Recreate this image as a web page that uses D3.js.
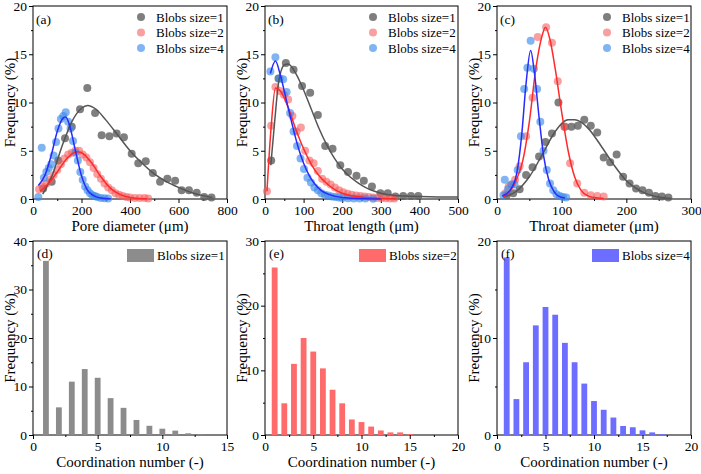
<!DOCTYPE html>
<html>
<head>
<meta charset="utf-8">
<script src="https://cdn.jsdelivr.net/npm/d3@7"></script>
<style>
  body { margin: 0; background: #fff; }
  svg text { font-family: "Liberation Serif", "Times New Roman", serif; fill: #000; }
</style>
</head>
<body>
<svg id="chart"></svg>
<script>
// ---- data: [x, y] pairs ----
// (a) pore diameter
const poreDots1 = [[42,1.1],[77,1.8],[104,4.0],[132,6.3],[160,7.5],[194,9.3],[224,11.5],[256,8.9],[283,6.6],[315,6.5],[345,6.8],[375,6.4],[407,4.7],[434,3.7],[465,3.9],[494,2.7],[524,1.8],[554,2.1],[586,1.9],[613,0.9],[643,0.9],[675,0.65],[706,0.2],[736,0.15]];
const poreDots2 = [[25,1.0],[40,1.3],[55,1.6],[70,2.0],[85,2.5],[100,3.0],[115,3.6],[130,4.2],[145,4.6],[160,4.8],[175,5.0],[190,5.0],[205,4.6],[220,4.3],[235,3.8],[250,3.2],[265,2.6],[280,2.1],[295,1.6],[310,1.2],[325,0.9],[340,0.6],[355,0.45],[370,0.3],[385,0.2],[400,0.15],[420,0.1],[440,0.1],[460,0.1],[475,0.05]];
const poreDots4 = [[22,0.2],[36,5.3],[45,2.2],[55,2.8],[65,3.2],[75,3.6],[85,4.5],[95,5.9],[105,7.3],[115,8.3],[125,8.6],[135,9.0],[145,8.0],[155,7.3],[165,6.0],[175,4.8],[185,4.0],[195,2.8],[205,2.0],[215,1.3],[225,0.9],[235,0.6],[245,0.4],[255,0.3],[265,0.2],[280,0.1],[295,0.08],[310,0.05]];
const poreFit1 = [[40,0.5],[80,2.5],[120,5.5],[160,8.0],[200,9.4],[225,9.7],[260,9.3],[300,8.2],[350,6.6],[400,5.0],[450,3.7],[500,2.6],[550,1.8],[600,1.2],[650,0.7],[700,0.35],[740,0.15]];
const poreFit2 = [[30,0.8],[60,1.5],[100,2.8],[140,4.2],[180,4.9],[200,4.8],[240,3.8],[280,2.3],[320,1.1],[360,0.45],[400,0.15],[440,0.05],[470,0.02]];
const poreFit4 = [[22,1.4],[50,2.5],[75,4.5],[100,7.0],[125,8.4],[135,8.5],[150,7.7],[175,5.0],[200,2.4],[225,0.9],[250,0.35],[280,0.1],[320,0.02]];

// (b) throat length
const lengthDots1 = [[16,4.0],[35,12.5],[54,14.1],[74,13.4],[96,11.7],[117,11.0],[137,8.7],[156,5.5],[175,5.2],[195,3.5],[215,2.8],[237,2.4],[256,1.9],[277,1.3],[299,0.6],[318,0.6],[338,0.25],[358,0.3],[378,0.3],[397,0.3]];
const lengthDots2 = [[5,0.8],[16,7.6],[27,11.6],[38,11.2],[49,10.8],[60,10.3],[71,8.6],[82,7.0],[93,7.4],[104,5.0],[115,4.0],[126,3.7],[137,2.9],[148,2.1],[159,1.8],[170,1.5],[181,1.2],[192,0.9],[203,0.7],[214,0.55],[225,0.45],[236,0.35],[247,0.3],[258,0.25],[269,0.2],[280,0.15],[291,0.1],[302,0.1],[313,0.08],[324,0.05],[335,0.05]];
const lengthDots4 = [[14,13.2],[27,14.7],[38,12.5],[47,12.4],[56,11.1],[65,8.9],[74,7.0],[83,5.5],[92,4.2],[101,3.1],[110,2.2],[119,1.7],[128,1.2],[137,0.9],[146,0.6],[155,0.45],[164,0.35],[173,0.25],[182,0.2],[191,0.15],[200,0.1],[215,0.08],[230,0.06],[245,0.05],[260,0.04],[280,0.03]];
const lengthFit1 = [[15,3.5],[25,8],[35,12],[50,13.9],[60,14.0],[80,13.0],[100,11.3],[120,9.3],[140,7.3],[160,5.6],[180,4.2],[200,3.1],[220,2.3],[240,1.7],[260,1.2],[280,0.85],[300,0.6],[330,0.4],[360,0.3],[400,0.25],[450,0.22],[500,0.2]];
const lengthFit2 = [[5,0.8],[16,7.5],[27,11.5],[40,11.2],[60,9.5],[80,7.2],[100,5.2],[120,3.6],[140,2.4],[160,1.6],[180,1.0],[200,0.6],[230,0.3],[260,0.15],[300,0.07],[340,0.03]];
const lengthFit4 = [[14,13.0],[27,14.3],[40,12.8],[55,10.3],[70,7.8],[85,5.5],[100,3.7],[115,2.4],[130,1.5],[145,0.9],[160,0.55],[180,0.3],[200,0.15],[230,0.07],[260,0.03],[300,0.01]];

// (c) throat diameter
const diamDots1 = [[15,0.4],[25,0.6],[35,1.0],[45,2.5],[55,3.3],[65,4.4],[75,5.9],[85,6.8],[95,10.0],[105,7.5],[115,7.5],[125,7.6],[135,8.2],[145,7.6],[155,6.9],[165,4.3],[175,3.8],[185,4.6],[195,2.3],[205,1.6],[215,1.1],[225,0.9],[235,0.65],[245,0.3],[255,0.25],[265,0.15]];
const diamDots2 = [[13,0.6],[18,1.3],[23,1.5],[28,2.0],[35,3.4],[45,6.5],[55,10.5],[63,16.8],[76,17.8],[85,16.2],[94,12.2],[104,7.5],[113,3.7],[124,1.6],[135,0.65],[145,0.4],[155,0.3],[165,0.25]];
const diamDots4 = [[10,0.4],[12,2.0],[17,1.0],[22,1.5],[27,1.5],[32,3.0],[37,6.5],[42,11.4],[47,13.6],[52,16.4],[57,13.5],[62,11.4],[67,8.0],[72,5.0],[77,3.0],[82,1.6],[87,0.9],[92,0.5],[97,0.3],[102,0.2],[107,0.15]];
const diamFit1 = [[10,0.2],[30,0.8],[50,2.3],[70,4.6],[90,7.0],[110,8.2],[120,8.2],[140,7.4],[160,5.6],[180,3.6],[200,1.9],[220,0.9],[240,0.35],[260,0.1],[270,0.05]];
const diamFit2 = [[10,0.2],[20,0.8],[30,2.0],[40,4.0],[50,8.0],[60,13.5],[70,17.0],[75,17.8],[82,16.5],[90,13.5],[100,9.0],[110,5.0],[120,2.3],[130,0.9],[140,0.35],[150,0.15],[165,0.05]];
const diamFit4 = [[8,0.3],[20,0.9],[30,2.5],[38,6.5],[45,12.0],[52,15.4],[58,13.0],[65,8.5],[72,4.5],[80,2.0],[88,0.8],[95,0.3],[105,0.1]];

// (d)-(f) coordination number
const coordNum1 = [1,2,3,4,5,6,7,8,9,10,11,12,13];
const coordFreq1 = [35.9,5.7,11.0,13.6,11.8,7.6,5.6,3.1,1.9,1.3,0.9,0.35,0.15];
const coordNum2 = [1,2,3,4,5,6,7,8,9,10,11,12,13,14,15];
const coordFreq2 = [25.9,4.9,11.0,15.0,12.9,10.3,7.0,4.9,2.4,2.0,1.3,0.7,0.4,0.4,0.15];
const coordNum4 = [1,2,3,4,5,6,7,8,9,10,11,12,13,14,15,16,17];
const coordFreq4 = [18.3,3.7,7.5,11.3,13.2,12.4,9.5,7.5,5.3,3.5,2.6,1.8,0.93,0.8,0.48,0.27,0.1];

const legendNames = ["Blobs size=1", "Blobs size=2", "Blobs size=4"];

// ---- styles ----
const dotColors = ["rgba(95,95,95,0.8)", "rgba(245,95,95,0.6)", "rgba(60,140,235,0.65)"];
const lineColors = ["#555555", "#ff2a2a", "#2a2aff"];
const barColors = ["#8c8c8c", "#ff6a6a", "#6d6dff"];

const W = 701, H = 474;
const svg = d3.select("#chart").attr("width", W).attr("height", H);
svg.append("rect").attr("width", W).attr("height", H).attr("fill", "#fff");

function frame(g, x, y, xTicks, xMinor, yTicks, yMinor, xTitle) {
    const [x0, x1] = x.range();
    const [y0, y1] = y.range();
    // minor ticks
    g.append("g").attr("transform", `translate(0,${y0})`)
        .call(d3.axisBottom(x).tickValues(xMinor).tickSize(2).tickFormat(""))
        .call(a => a.select(".domain").remove());
    g.append("g").attr("transform", `translate(${x0},0)`)
        .call(d3.axisLeft(y).tickValues(yMinor).tickSize(2).tickFormat(""))
        .call(a => a.select(".domain").remove());
    // major ticks
    const xa = g.append("g").attr("transform", `translate(0,${y0})`)
        .call(d3.axisBottom(x).tickValues(xTicks).tickSize(4).tickPadding(2).tickFormat(d3.format("d")));
    const ya = g.append("g").attr("transform", `translate(${x0},0)`)
        .call(d3.axisLeft(y).tickValues(yTicks).tickSize(4).tickPadding(2).tickFormat(d3.format("d")));
    [xa, ya].forEach(a => {
        a.selectAll("text").attr("font-size", 13.5).attr("font-family", "Liberation Serif");
        a.select(".domain").remove();
    });
    g.append("rect").attr("x", x0).attr("y", y1).attr("width", x1 - x0).attr("height", y0 - y1)
        .attr("fill", "none").attr("stroke", "#000").attr("stroke-width", 1);
    g.append("text").attr("x", (x0 + x1) / 2).attr("y", y0 + 32)
        .attr("text-anchor", "middle").attr("font-size", 15).text(xTitle);
    g.append("text").attr("transform", `translate(${x0 - 18},${(y0 + y1) / 2}) rotate(-90)`)
        .attr("text-anchor", "middle").attr("font-size", 15).text("Frequency (%)");
}

function scatterPanel(opt) {
    const g = svg.append("g");
    const x = d3.scaleLinear().domain([0, opt.xMax]).range([opt.left, opt.right]);
    const y = d3.scaleLinear().domain([0, 20]).range([199, 6]);
    frame(g, x, y, opt.xTicks, opt.xMinor, [0, 5, 10, 15, 20], [2.5, 7.5, 12.5, 17.5], opt.xTitle);

    const line = d3.line().x(d => x(d[0])).y(d => y(d[1])).curve(d3.curveMonotoneX);
    opt.dots.forEach((ser, i) => {
        g.append("g").selectAll("circle").data(ser).join("circle")
            .attr("cx", d => x(d[0])).attr("cy", d => y(d[1])).attr("r", 4)
            .attr("fill", dotColors[i]);
    });
    opt.fits.forEach((ser, i) => {
        g.append("path").datum(ser).attr("d", line)
            .attr("fill", "none").attr("stroke", lineColors[i]).attr("stroke-width", 1.5);
    });

    g.append("text").attr("x", opt.left + 3).attr("y", 24).attr("font-size", 13.5).text(opt.tag);
    legendNames.forEach((n, i) => {
        const ly = 17 + i * 15.5;
        g.append("circle").attr("cx", opt.legendX).attr("cy", ly).attr("r", 4).attr("fill", dotColors[i]);
        g.append("text").attr("x", opt.legendX + 15).attr("y", ly + 4.5).attr("font-size", 13).text(n);
    });
}

function barPanel(opt) {
    const g = svg.append("g");
    const x = d3.scaleLinear().domain([0, opt.xMax]).range([opt.left, opt.right]);
    const y = d3.scaleLinear().domain([0, opt.yMax]).range([435, 241]);
    frame(g, x, y, opt.xTicks, opt.xMinor, d3.range(0, opt.yMax + 1, 10), d3.range(5, opt.yMax, 10), "Coordination number (-)");

    const bw = 5.8; // bars keep the same pixel width in every panel
    g.append("g").selectAll("rect").data(opt.nums).join("rect")
        .attr("x", d => x(d) - bw / 2).attr("width", bw)
        .attr("y", (d, i) => y(opt.freq[i])).attr("height", (d, i) => y(0) - y(opt.freq[i]))
        .attr("fill", opt.color);

    g.append("text").attr("x", opt.left + 4).attr("y", 258).attr("font-size", 13.5).text(opt.tag);
    g.append("rect").attr("x", opt.legendX).attr("y", 249).attr("width", 27).attr("height", 13).attr("fill", opt.color);
    g.append("text").attr("x", opt.legendX + 30).attr("y", 260).attr("font-size", 13).text(opt.label);
}

scatterPanel({ left: 33, right: 227, xMax: 800, xTicks: [0, 200, 400, 600, 800], xMinor: [100, 300, 500, 700],
    xTitle: "Pore diameter (\u03bcm)", tag: "(a)", legendX: 141,
    dots: [poreDots1, poreDots2, poreDots4], fits: [poreFit1, poreFit2, poreFit4] });
scatterPanel({ left: 265, right: 458, xMax: 500, xTicks: [0, 100, 200, 300, 400, 500], xMinor: [50, 150, 250, 350, 450],
    xTitle: "Throat length (\u03bcm)", tag: "(b)", legendX: 373,
    dots: [lengthDots1, lengthDots2, lengthDots4], fits: [lengthFit1, lengthFit2, lengthFit4] });
scatterPanel({ left: 497, right: 691, xMax: 300, xTicks: [0, 100, 200, 300], xMinor: [50, 150, 250],
    xTitle: "Throat diameter (\u03bcm)", tag: "(c)", legendX: 607,
    dots: [diamDots1, diamDots2, diamDots4], fits: [diamFit1, diamFit2, diamFit4] });

barPanel({ left: 33, right: 227, xMax: 15, yMax: 40, xTicks: [0, 5, 10, 15], xMinor: [2.5, 7.5, 12.5],
    nums: coordNum1, freq: coordFreq1, color: barColors[0], tag: "(d)", legendX: 127, label: legendNames[0] });
barPanel({ left: 265, right: 458, xMax: 20, yMax: 30, xTicks: [0, 5, 10, 15, 20], xMinor: [2.5, 7.5, 12.5, 17.5],
    nums: coordNum2, freq: coordFreq2, color: barColors[1], tag: "(e)", legendX: 359, label: legendNames[1] });
barPanel({ left: 497, right: 691, xMax: 20, yMax: 20, xTicks: [0, 5, 10, 15, 20], xMinor: [2.5, 7.5, 12.5, 17.5],
    nums: coordNum4, freq: coordFreq4, color: barColors[2], tag: "(f)", legendX: 592, label: legendNames[2] });
</script>
</body>
</html>
